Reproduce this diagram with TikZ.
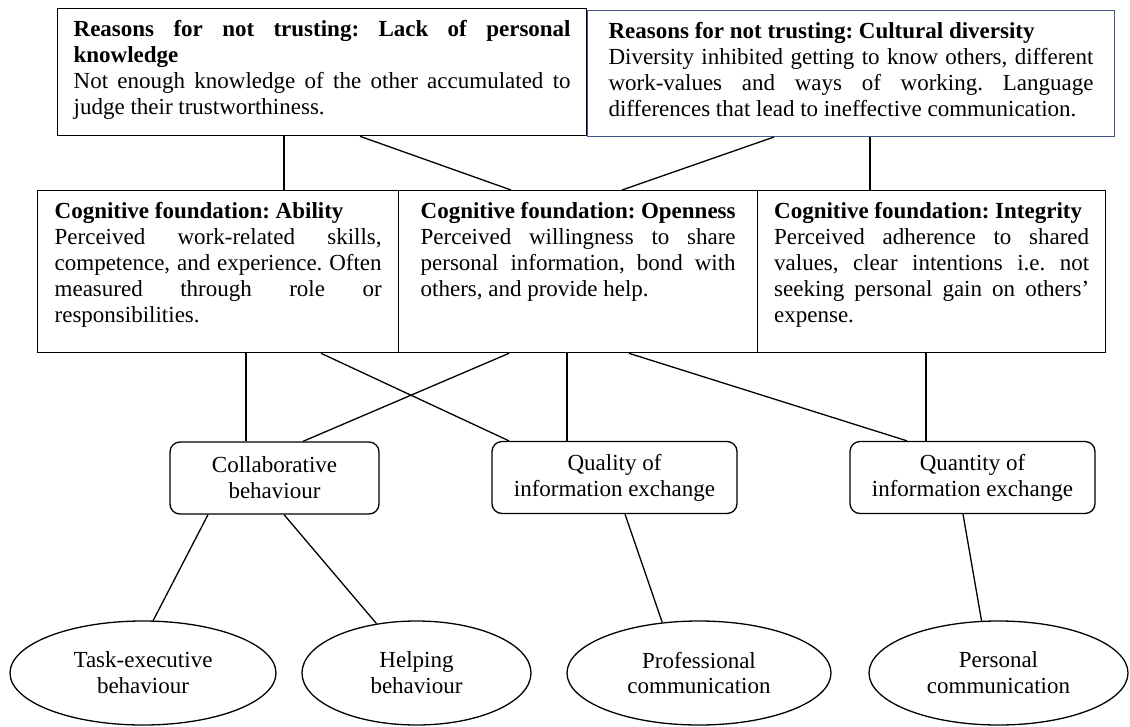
\documentclass[tikz,border=0pt]{standalone}
\usepackage{fontspec}
\setmainfont{Liberation Serif}
\usepackage{tikz}
\usetikzlibrary{shapes.geometric}
\definecolor{boxblue}{RGB}{68,84,140}
\newcommand{\celltext}[3]{\begin{minipage}[t][#2][t]{#1}\frenchspacing
  \tolerance=10000\hyphenpenalty=10000 #3\end{minipage}}
\tikzset{
  txt/.style = {font=\fontsize{23}{25.8}\selectfont},
  reason/.style = {txt, draw, rectangle, anchor=north west, inner ysep=12pt,
    line width=1.3pt},% reasons / foundations, text at top
  outcome/.style = {txt, draw, rounded corners=10pt, align=center,
    minimum height=72pt, line width=1.3pt},
  behav/.style = {txt, draw, ellipse, align=center, minimum height=104pt,
    inner sep=0pt, line width=1.3pt},
  link/.style = {line width=1.3pt}
}

\begin{document}
\begin{tikzpicture}[x=1pt, y=-1pt]
\useasboundingbox (0,0) rectangle (1130,726);
% reasons for not trusting
\node [reason, inner xsep=16pt] (lack) at (57,8) {\celltext{497pt}{103pt}{%
  \textbf{Reasons for not trusting: Lack of personal\linebreak knowledge}\\
  Not enough knowledge of the other accumulated to\linebreak
  judge their trustworthiness.}};
\node [reason, inner xsep=21pt, draw=boxblue, line width=1pt] (div) at (587,10)
  {\celltext{485pt}{102pt}{%
  \textbf{Reasons for not trusting: Cultural diversity}\\
  Diversity inhibited getting to know others, different\linebreak
  work-values and ways of working. Language\linebreak
  differences that lead to ineffective communication.}};
% cognitive foundations
\node [reason, inner xsep=17pt] (abil) at (37,190) {\celltext{327pt}{138pt}{%
  \textbf{Cognitive foundation: Ability}\\
  Perceived work-related skills,\linebreak
  competence, and experience. Often\linebreak
  measured through role or\linebreak
  responsibilities.}};
\node [reason, inner xsep=22pt] (open) at (398,190) {\celltext{315pt}{138pt}{%
  \textbf{Cognitive foundation: Openness}\\
  Perceived willingness to share\linebreak
  personal information, bond with\linebreak
  others, and provide help.}};
\node [reason, inner xsep=16.5pt] (integ) at (757,190) {\celltext{315pt}{138pt}{%
  \textbf{Cognitive foundation: Integrity}\\
  Perceived adherence to shared\linebreak
  values, clear intentions i.e. not\linebreak
  seeking personal gain on others’\linebreak
  expense.}};
% outcomes
\node [outcome, minimum width=209pt] (collab) at (274.5,478) {Collaborative\\behaviour};
\node [outcome, minimum width=245pt] (quality) at (614.5,477.5) {Quality of\\information exchange};
\node [outcome, minimum width=245pt] (quantity) at (972.5,477.5) {Quantity of\\information exchange};
% behaviours
\node [behav, minimum width=266pt] (task) at (143,673) {Task-executive\\behaviour};
\node [behav, minimum width=229pt] (help) at (416.5,673) {Helping\\behaviour};
\node [behav, minimum width=264pt] (prof) at (699,673) {Professional\\communication};
\node [behav, minimum width=259pt] (pers) at (998.5,673) {Personal\\communication};

\draw [link] (lack.south -| 284,0) -- (abil.north -| 284,0);
\draw [link] (lack.south -| 360,0) -- (open.north -| 511,0);
\draw [link] (div.south -| 774,0) -- (open.north -| 622,0);
\draw [link] (div.south -| 870,0) -- (integ.north -| 870,0);
\draw [link] (abil.south -| 246,0) -- (collab.north -| 246,0);
\draw [link] (abil.south -| 321,0) -- (quality.north -| 509,0);
\draw [link] (open.south -| 509,0) -- (collab.north -| 303,0);
\draw [link] (open.south -| 567,0) -- (quality.north -| 567,0);
\draw [link] (open.south -| 629,0) -- (quantity.north -| 907,0);
\draw [link] (integ.south -| 926,0) -- (quantity.north -| 926,0);
\draw [link] (collab.south -| 208,0) -- (task.79);
\draw [link] (collab.south -| 284,0) -- (help.129);
\draw [link] (quality.south -| 625,0) -- (prof.126);
\draw [link] (quantity.south -| 963,0) -- (pers.108);
\end{tikzpicture}
\end{document}
